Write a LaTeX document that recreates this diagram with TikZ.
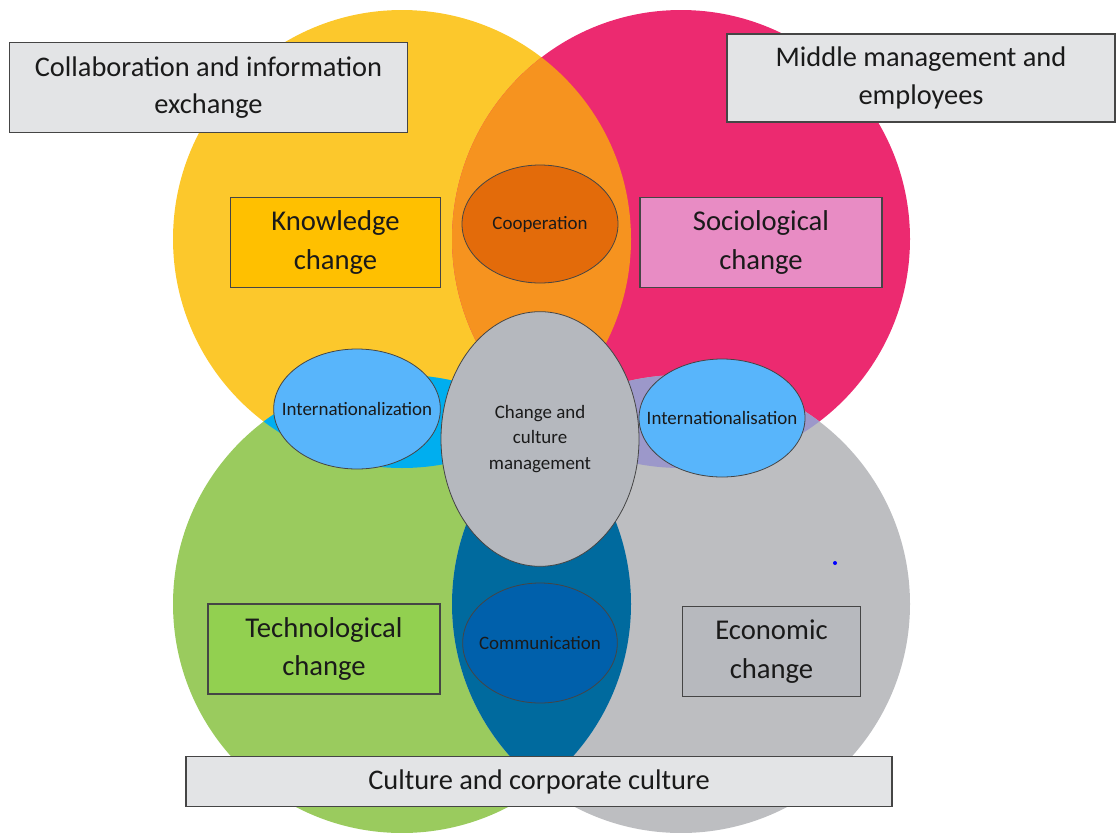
\documentclass[tikz,border=0pt]{standalone}
\usepackage{fontspec}
\setmainfont{Carlito}
\usetikzlibrary{shapes.geometric}
\definecolor{cyellow}{HTML}{FCC82C}
\definecolor{cpink}{HTML}{EC2A70}
\definecolor{cgreen}{HTML}{9ACB5E}
\definecolor{cgray}{HTML}{BDBEC1}
\definecolor{corange}{HTML}{F6931F}
\definecolor{ccyan}{HTML}{00AEEF}
\definecolor{clav}{HTML}{9C98CA}
\definecolor{cteal}{HTML}{006A9E}
\definecolor{boxgray}{HTML}{E3E4E6}
\definecolor{kbox}{HTML}{FFC000}
\definecolor{sbox}{HTML}{E88CC4}
\definecolor{tbox}{HTML}{92D050}
\definecolor{ebox}{HTML}{B7B9BE}
\definecolor{coop}{HTML}{E36B0A}
\definecolor{intl}{HTML}{58B5FB}
\definecolor{mgmt}{HTML}{B5B8BE}
\definecolor{comm}{HTML}{0060AB}
\definecolor{edge}{HTML}{454545}
\definecolor{txt}{HTML}{1A1A1A}
\newcommand{\nowidth}[1]{\makebox[0pt][c]{#1}}
\tikzset{
  labelbox/.style={draw=edge, line width=0.8pt, rectangle, align=center, text=txt, inner sep=0pt,
    font=\fontsize{21.3}{28}\selectfont},
  bigbox/.style={labelbox, font=\fontsize{21.5}{29}\selectfont},
  ell/.style={draw=edge, line width=0.6pt, ellipse, align=center, text=txt, inner sep=0pt,
    font=\fontsize{14.2}{19}\selectfont}
}
\begin{document}
\begin{tikzpicture}[x=0.75pt,y=-0.75pt]
\useasboundingbox (0,0) rectangle (1116,832);
% four circles
\fill[cyellow] (402,239) circle[radius=229];
\fill[cpink] (681,239) circle[radius=229];
\fill[cgreen] (402,604) circle[radius=229];
\fill[cgray] (681,604) circle[radius=229];
% overlaps
\begin{scope}
  \clip (402,239) circle[radius=229];
  \fill[corange] (681,239) circle[radius=229];
\end{scope}
\begin{scope}
  \clip (402,239) circle[radius=229];
  \fill[ccyan] (402,604) circle[radius=229];
\end{scope}
\begin{scope}
  \clip (681,239) circle[radius=229];
  \fill[clav] (681,604) circle[radius=229];
\end{scope}
\begin{scope}
  \clip (402,604) circle[radius=229];
  \fill[cteal] (681,604) circle[radius=229];
\end{scope}
% boxes
\node[labelbox, fill=boxgray, minimum width=298pt, minimum height=68pt] (collab) at (208.5,87.5)
  {Collaboration and information\\exchange};
\node[labelbox, fill=boxgray, minimum width=291pt, minimum height=66pt] (middle) at (921,78)
  {Middle management and\\employees};
\node[bigbox, fill=kbox, minimum width=157pt, minimum height=68pt] (know) at (335.5,242.5)
  {Knowledge\\change};
\node[bigbox, fill=sbox, minimum width=181.5pt, minimum height=68pt] (socio) at (761,242.5)
  {Sociological\\change};
\node[bigbox, fill=tbox, minimum width=174pt, minimum height=67.5pt] (tech) at (324,649)
  {Technological\\change};
\node[bigbox, fill=ebox, minimum width=133pt, minimum height=68pt] (econ) at (771.5,651.5)
  {Economic\\change};
\node[labelbox, fill=boxgray, minimum width=529.5pt, minimum height=37pt] (culture) at (539,781.5)
  {Culture and corporate culture};
% ellipses
\node[ell, fill=coop, minimum width=117pt, minimum height=88.5pt] (coopn) at (540,224)
  {\nowidth{Cooperation}};
\node[ell, fill=intl, minimum width=125pt, minimum height=90pt] (intlL) at (357,409)
  {\nowidth{Internationalization}};
\node[ell, fill=intl, minimum width=124.5pt, minimum height=88.5pt] (intlR) at (722,418)
  {\nowidth{Internationalisation}};
\node[ell, fill=mgmt, minimum width=148.5pt, minimum height=191pt] (change) at (540,439)
  {Change and\\culture\\management};
\node[ell, fill=comm, minimum width=116pt, minimum height=90pt] (commn) at (540,643)
  {\nowidth{Communication}};
% stray dot
\node[circle, fill=blue, inner sep=0pt, minimum size=3pt] (dot) at (835,563) {};
\end{tikzpicture}
\end{document}
